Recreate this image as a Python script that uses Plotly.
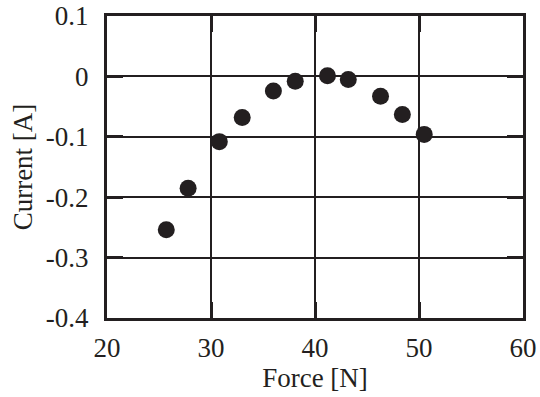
import plotly.graph_objects as go

force = [25.7, 27.8, 30.8, 33.0, 36.0, 38.1, 41.2, 43.2, 46.3, 48.4, 50.5]
current = [-0.254, -0.185, -0.108, -0.068, -0.024, -0.008, 0.001, -0.005, -0.033, -0.063, -0.096]

x_ticks = [20, 30, 40, 50, 60]
y_ticks = [0.1, 0, -0.1, -0.2, -0.3, -0.4]
y_labels = ["0.1", "0", "-0.1", "-0.2", "-0.3", "-0.4"]

font = dict(family="Liberation Serif", size=27, color="#231f20")

fig = go.Figure()
fig.add_trace(go.Scatter(
    x=force, y=current, mode="markers",
    marker=dict(size=17, color="#231f20"),
    showlegend=False,
))

axis_common = dict(
    showline=True, linewidth=3, linecolor="#231f20",
    mirror="ticks", ticks="inside", ticklen=16, tickwidth=3, tickcolor="#231f20",
    showgrid=True, gridcolor="#231f20", gridwidth=1.5,
    zeroline=False, tickfont=font, automargin=False,
)

fig.update_xaxes(
    range=[20, 60], tickvals=x_ticks, ticktext=[str(v) for v in x_ticks],
    title=dict(text="Force [N]", font=font, standoff=4),
    ticklabelstandoff=4,
    **axis_common,
)
fig.update_yaxes(
    range=[-0.4, 0.1], tickvals=y_ticks, ticktext=y_labels,
    title=dict(text="Current [A]", font=font, standoff=6),
    ticklabelstandoff=10,
    **axis_common,
)

fig.update_layout(
    width=540, height=397,
    margin=dict(l=107, r=17, t=16, b=79),
    plot_bgcolor="white", paper_bgcolor="white",
    font=font,
)

fig.write_html("out.html")
